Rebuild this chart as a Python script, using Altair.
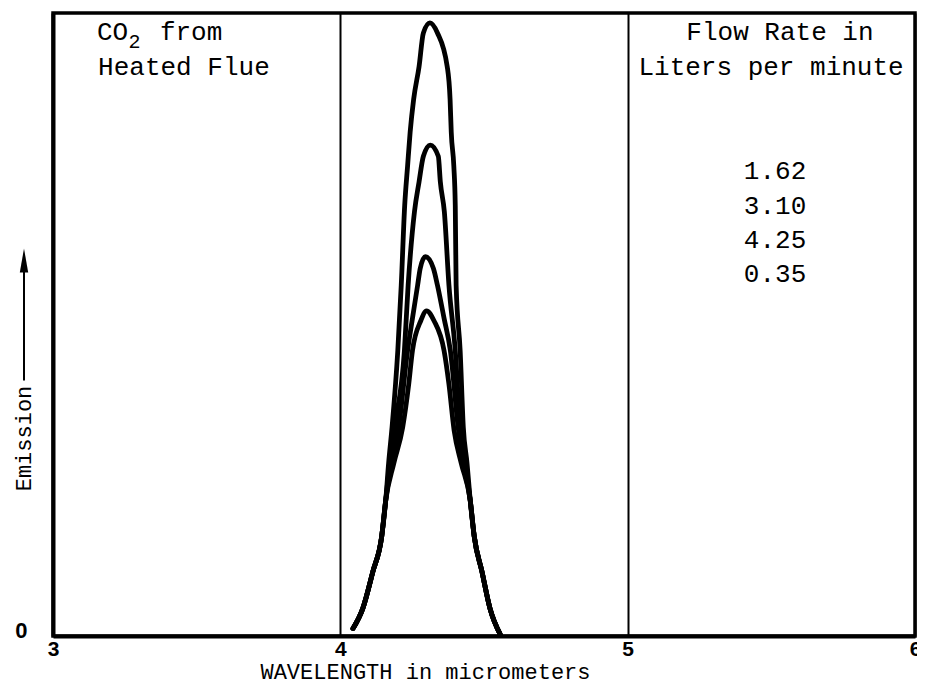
import altair as alt
import pandas as pd

# ---- data (wavelength in micrometers, emission in arbitrary units 0-100)
rates = ["1.62", "3.10", "4.25", "0.35"]

wl_162 = [4.044, 4.078, 4.113, 4.144, 4.158, 4.168, 4.180, 4.200, 4.212, 4.224, 4.234, 4.243, 4.255, 4.274,
          4.289, 4.312, 4.338, 4.372, 4.382, 4.386, 4.395, 4.400, 4.403, 4.417, 4.428, 4.441, 4.452, 4.466,
          4.493, 4.521, 4.556]
em_162 = [1.2, 4.4, 10.3, 16.0, 21.8, 27.7, 33.5, 45.8, 56.3, 69.1, 75.4, 80.9, 86.1, 91.4,
          96.8, 98.4, 96.8, 91.4, 86.1, 80.9, 75.4, 69.1, 56.3, 45.8, 33.5, 27.7, 21.8, 16.0,
          10.3, 4.4, 0.3]

wl_310 = [4.044, 4.078, 4.113, 4.144, 4.158, 4.172, 4.189, 4.223, 4.236, 4.258, 4.274, 4.289, 4.313,
          4.341, 4.348, 4.362, 4.378, 4.400, 4.417, 4.435, 4.452, 4.466, 4.493, 4.521, 4.556]
em_310 = [1.2, 4.4, 10.3, 16.0, 21.8, 27.7, 33.5, 45.8, 56.3, 68.1, 72.9, 77.0, 78.8,
          77.0, 72.9, 68.1, 56.3, 45.8, 33.5, 27.7, 21.8, 16.0, 10.3, 4.4, 0.3]

wl_425 = [4.044, 4.078, 4.113, 4.144, 4.158, 4.179, 4.203, 4.234, 4.251, 4.269, 4.278, 4.296,
          4.324, 4.338, 4.361, 4.383, 4.410, 4.428, 4.452, 4.466, 4.493, 4.521, 4.556]
em_425 = [1.2, 4.4, 10.3, 16.0, 21.8, 27.7, 33.5, 45.8, 51.0, 56.3, 59.0, 60.9,
          59.0, 56.3, 51.0, 45.8, 33.5, 27.7, 21.8, 16.0, 10.3, 4.4, 0.3]

wl_035 = [4.044, 4.078, 4.113, 4.144, 4.158, 4.186, 4.217, 4.238, 4.251, 4.280, 4.300,
          4.326, 4.361, 4.378, 4.396, 4.421, 4.452, 4.466, 4.493, 4.521, 4.556]
em_035 = [1.2, 4.4, 10.3, 16.0, 21.8, 27.7, 33.5, 40.4, 45.8, 50.6, 52.2,
          50.6, 45.8, 40.4, 33.0, 27.7, 21.8, 16.0, 10.3, 4.4, 0.3]

x_ticks = [3, 4, 5, 6]
y_ticks = [0]

# annotation texts (positions in data units)
left_texts = ["CO", "from", "Heated Flue"]
left_x = [3.153, 3.372, 3.157]
left_y = [97.0, 97.0, 91.4]
sub_text = ["2"]
sub_x = [3.263]
sub_y = [95.4]

right_texts = ["Flow Rate in", "Liters per minute"] + rates
right_x = [5.530, 5.499, 5.513, 5.513, 5.513, 5.513]
right_y = [97.0, 91.4, 74.6, 69.1, 63.6, 58.1]

arrow_y0, arrow_y1 = 41.0, 62.2

# ---- build tables
rows = []
for rate, xs, ys in zip(rates, [wl_162, wl_310, wl_425, wl_035], [em_162, em_310, em_425, em_035]):
    for xv, yv in zip(xs, ys):
        rows.append({"rate": rate, "wl": xv, "em": yv})
curves_df = pd.DataFrame(rows)
left_df = pd.DataFrame({"t": left_texts, "x": left_x, "y": left_y})
sub_df = pd.DataFrame({"t": sub_text, "x": sub_x, "y": sub_y})
right_df = pd.DataFrame({"t": right_texts, "x": right_x, "y": right_y})

MONO = "Liberation Mono"
xs = alt.Scale(domain=[3, 6], nice=False, zero=False)
ys = alt.Scale(domain=[0, 100], nice=False)

x_enc = alt.X("wl:Q", scale=xs, axis=alt.Axis(
    values=x_ticks, format="d", title="WAVELENGTH in micrometers",
    grid=True, gridColor="black", gridWidth=2, gridOpacity=1,
    ticks=False, domainColor="black", domainWidth=4,
    labelFont="Liberation Sans", labelFontWeight="bold", labelFontSize=21, labelColor="black",
    labelPadding=2, labelFlush=False,
    titleFont=MONO, titleFontSize=22, titleFontWeight="normal", titleColor="black",
    titleX=372, titleY=42, titleAnchor="start", titleAlign="center", titleBaseline="alphabetic"))
y_enc = alt.Y("em:Q", scale=ys, axis=alt.Axis(
    values=y_ticks, format="d", title="Emission", grid=False, ticks=False,
    domainColor="black", domainWidth=4,
    labelFont="Liberation Sans", labelFontWeight="bold", labelFontSize=22, labelColor="black",
    labelPadding=26, labelOffset=-6,
    titleFont=MONO, titleFontSize=22, titleFontWeight="normal", titleColor="black",
    titleX=-30, titleY=425, titleAnchor="start", titleAlign="center", titleBaseline="middle", titleAngle=270))

curves = alt.Chart(curves_df).mark_line(
    color="black", strokeWidth=4.8, interpolate="monotone", strokeCap="round", strokeJoin="round"
).encode(x=x_enc, y=y_enc, detail="rate:N")

left_txt = alt.Chart(left_df).mark_text(font=MONO, fontSize=26, align="left", baseline="middle",
                                        color="black").encode(
    x=alt.X("x:Q", scale=xs), y=alt.Y("y:Q", scale=ys), text="t:N")
sub_txt = alt.Chart(sub_df).mark_text(font=MONO, fontSize=20, align="left", baseline="middle",
                                      color="black").encode(
    x=alt.X("x:Q", scale=xs), y=alt.Y("y:Q", scale=ys), text="t:N")
right_txt = alt.Chart(right_df).mark_text(font=MONO, fontSize=26, align="center", baseline="middle",
                                          color="black").encode(
    x=alt.X("x:Q", scale=xs), y=alt.Y("y:Q", scale=ys), text="t:N")

arrow_df = pd.DataFrame({"y0": [arrow_y0], "y1": [arrow_y1 - 2.5]})
arrow_line = alt.Chart(arrow_df).mark_rule(color="black", strokeWidth=2).encode(
    x=alt.value(-29), y=alt.Y("y0:Q", scale=ys), y2="y1:Q")
head_df = pd.DataFrame({"y": [arrow_y1]})
arrow_head = alt.Chart(head_df).mark_point(
    shape="M0,0L0.35,2L-0.35,2Z", filled=True, color="black", opacity=1, size=576, strokeWidth=0
).encode(x=alt.value(-29), y=alt.Y("y:Q", scale=ys))

chart = alt.layer(curves, left_txt, sub_txt, right_txt, arrow_line, arrow_head).properties(
    width=862, height=623,
    autosize=alt.AutoSizeParams(type="none"),
    padding={"left": 45, "top": 5, "right": 2, "bottom": 50},
    background="white",
).configure_view(stroke="black", strokeWidth=3.5)

chart.save("out.html", embed_options={"renderer": "svg", "actions": False})
